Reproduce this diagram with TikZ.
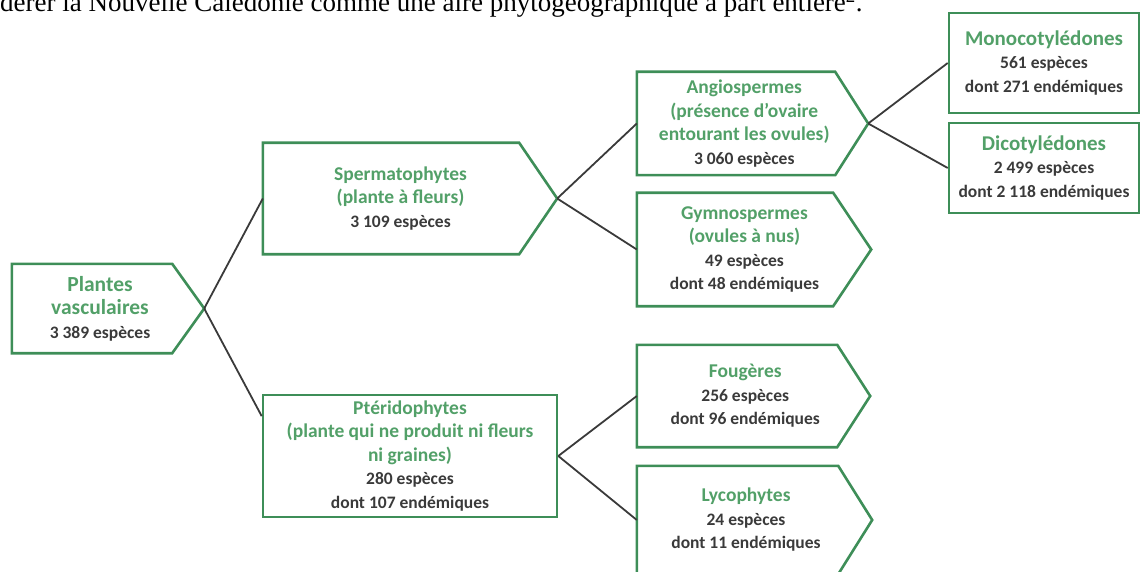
\documentclass[tikz,border=0pt]{standalone}
\usepackage{fontspec}
\setmainfont{Carlito}
\newfontfamily\bodyserif{Liberation Serif}
\usetikzlibrary{calc}

\definecolor{leafgreen}{RGB}{82,160,104}
\definecolor{boxgreen}{RGB}{62,142,88}
\definecolor{inkgray}{RGB}{58,58,58}
% green title line, optional size
\newcommand{\ttl}[2][19.5]{{\fontsize{#1}{23.5}\selectfont\color{leafgreen}#2}}

\tikzset{
  taxon/.style={rectangle, align=center, inner sep=0pt, text=inkgray,
    font=\bfseries\fontsize{17.5}{23.5}\selectfont},
  outline/.style={draw=boxgreen, line width=2.6pt, line join=miter},
  branch/.style={draw=inkgray, line width=1.8pt},
}

\begin{document}
\begin{tikzpicture}[x=1pt,y=-1pt]
  \useasboundingbox (0,0) rectangle (1140,572);
  \clip (0,0) rectangle (1140,572);

  % last line of the page above, cut by the frame
  \node[anchor=base west, inner sep=0pt, font=\bodyserif\fontsize{27}{30}\selectfont] (head) at (0,12)
    {dérer la Nouvelle Calédonie comme une aire phytogéographique à part entière\textsuperscript{2}.};

  % arrow-shaped boxes (width = body + half the point)
  \node[taxon, minimum width=176pt, minimum height=89pt] (plantes) at (100,308.5)
    {\ttl[21.5]{Plantes}\\\ttl[21.5]{vasculaires}\\3~389 espèces};
  \node[taxon, minimum width=275pt, minimum height=111pt] (sperm) at (400.5,198.5)
    {\ttl{Spermatophytes}\\\ttl{(plante à fleurs)}\\3~109 espèces};
  \node[taxon, minimum width=214.5pt, minimum height=103pt] (angio) at (744.25,123.5)
    {\ttl{Angiospermes}\\\ttl{(présence d’ovaire}\\\ttl{entourant les ovules)}\\3~060 espèces};
  \node[taxon, minimum width=215pt, minimum height=113pt] (gymno) at (744.5,249.5)
    {\ttl{Gymnospermes}\\\ttl{(ovules à nus)}\\49 espèces\\dont 48 endémiques};
  \node[taxon, minimum width=216.5pt, minimum height=102pt] (foug) at (745.25,396)
    {\ttl{Fougères}\\256 espèces\\dont 96 endémiques};
  \node[taxon, minimum width=218pt, minimum height=108pt] (lyco) at (746,520)
    {\ttl{Lycophytes}\\24 espèces\\dont 11 endémiques};

  % plain boxes
  \node[taxon, outline, minimum width=294pt, minimum height=122pt] (pter) at (410,456)
    {\ttl{Ptéridophytes}\\\ttl{(plante qui ne produit ni fleurs}\\\ttl{ni graines)}\\280 espèces\\dont 107 endémiques};
  \node[taxon, outline, minimum width=190pt, minimum height=100pt] (mono) at (1044,63)
    {\ttl[21]{Monocotylédones}\\561 espèces\\dont 271 endémiques};
  \node[taxon, outline, minimum width=190pt, minimum height=90pt] (dico) at (1044,168)
    {\ttl[21]{Dicotylédones}\\2~499 espèces\\dont 2~118 endémiques};

  % outlines with point, and tip coordinates
  \foreach \n/\d in {plantes/32,sperm/38,angio/33,gymno/38,foug/33,lyco/34}{
    \draw[outline] (\n.north west) -- ([xshift={-\d/2}]\n.north east)
      -- ([xshift={\d/2}]\n.east) -- ([xshift={-\d/2}]\n.south east)
      -- (\n.south west) -- cycle;
    \coordinate (\n-tip) at ([xshift={\d/2}]\n.east);
  }

  % connectors
  \draw[branch] (plantes-tip) -- (sperm.west);
  \draw[branch] (plantes-tip) -- ($(pter.north west)!0.18!(pter.south west)$);
  \draw[branch] (sperm-tip) -- (angio.west);
  \draw[branch] (sperm-tip) -- (gymno.west);
  \draw[branch] (angio-tip) -- (mono.west);
  \draw[branch] (angio-tip) -- (dico.west);
  \draw[branch] (pter.east) -- (foug.west);
  \draw[branch] (pter.east) -- (lyco.west);
\end{tikzpicture}
\end{document}
